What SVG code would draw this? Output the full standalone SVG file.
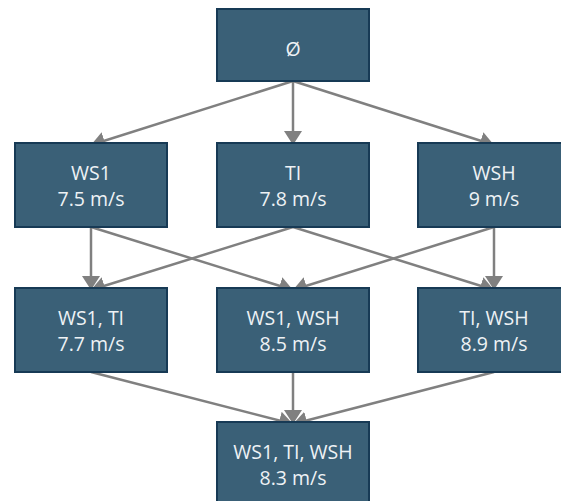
<svg xmlns="http://www.w3.org/2000/svg" width="561" height="501" viewBox="0 0 561 501">
  <style>
    .node rect { fill: #3a6077; stroke: #173a55; stroke-width: 2; }
    .node text { fill: #eef2f5; font-family: "Open Sans", "Noto Sans", "DejaVu Sans", sans-serif; font-size: 19.5px; text-anchor: middle; }
    .edge { stroke: #808080; stroke-width: 2.5; fill: none; marker-end: url(#arrow); }
  </style>
  <defs>
    <marker id="arrow" markerUnits="userSpaceOnUse" markerWidth="20" markerHeight="20" refX="14" refY="9" orient="auto">
      <path d="M0,0 L14,9 L0,18 Z" fill="#808080"/>
    </marker>
  </defs>
  <rect width="561" height="501" fill="#ffffff"/>

  <g id="connectors">
    <line class="edge" x1="293" y1="81" x2="91" y2="145"/>
    <line class="edge" x1="293" y1="81" x2="293" y2="145"/>
    <line class="edge" x1="293" y1="81" x2="494" y2="145"/>
    <line class="edge" x1="91" y1="227" x2="91" y2="290"/>
    <line class="edge" x1="91" y1="227" x2="293" y2="290"/>
    <line class="edge" x1="293" y1="227" x2="91" y2="290"/>
    <line class="edge" x1="293" y1="227" x2="494" y2="290"/>
    <line class="edge" x1="494" y1="227" x2="293" y2="290"/>
    <line class="edge" x1="494" y1="227" x2="494" y2="290"/>
    <line class="edge" x1="91" y1="372" x2="293" y2="424"/>
    <line class="edge" x1="293" y1="372" x2="293" y2="424"/>
    <line class="edge" x1="494" y1="372" x2="293" y2="424"/>
  </g>

  <g id="empty" class="node">
    <rect x="217" y="9" width="152" height="72"/>
    <text x="293" y="56">Ø</text>
  </g>
  <g id="ws1" class="node">
    <rect x="15" y="143" width="152" height="84"/>
    <text x="91" y="180">WS1</text>
    <text x="91" y="206">7.5 m/s</text>
  </g>
  <g id="ti" class="node">
    <rect x="217" y="143" width="152" height="84"/>
    <text x="293" y="180">TI</text>
    <text x="293" y="206">7.8 m/s</text>
  </g>
  <g id="wsh" class="node">
    <rect x="418" y="143" width="152" height="84"/>
    <text x="494" y="180">WSH</text>
    <text x="494" y="206">9 m/s</text>
  </g>
  <g id="ws1-ti" class="node">
    <rect x="15" y="288" width="152" height="84"/>
    <text x="91" y="325">WS1, TI</text>
    <text x="91" y="351">7.7 m/s</text>
  </g>
  <g id="ws1-wsh" class="node">
    <rect x="217" y="288" width="152" height="84"/>
    <text x="293" y="325">WS1, WSH</text>
    <text x="293" y="351">8.5 m/s</text>
  </g>
  <g id="ti-wsh" class="node">
    <rect x="418" y="288" width="152" height="84"/>
    <text x="494" y="325">TI, WSH</text>
    <text x="494" y="351">8.9 m/s</text>
  </g>
  <g id="ws1-ti-wsh" class="node">
    <rect x="217" y="422" width="152" height="84"/>
    <text x="293" y="459">WS1, TI, WSH</text>
    <text x="293" y="485">8.3 m/s</text>
  </g>
</svg>
